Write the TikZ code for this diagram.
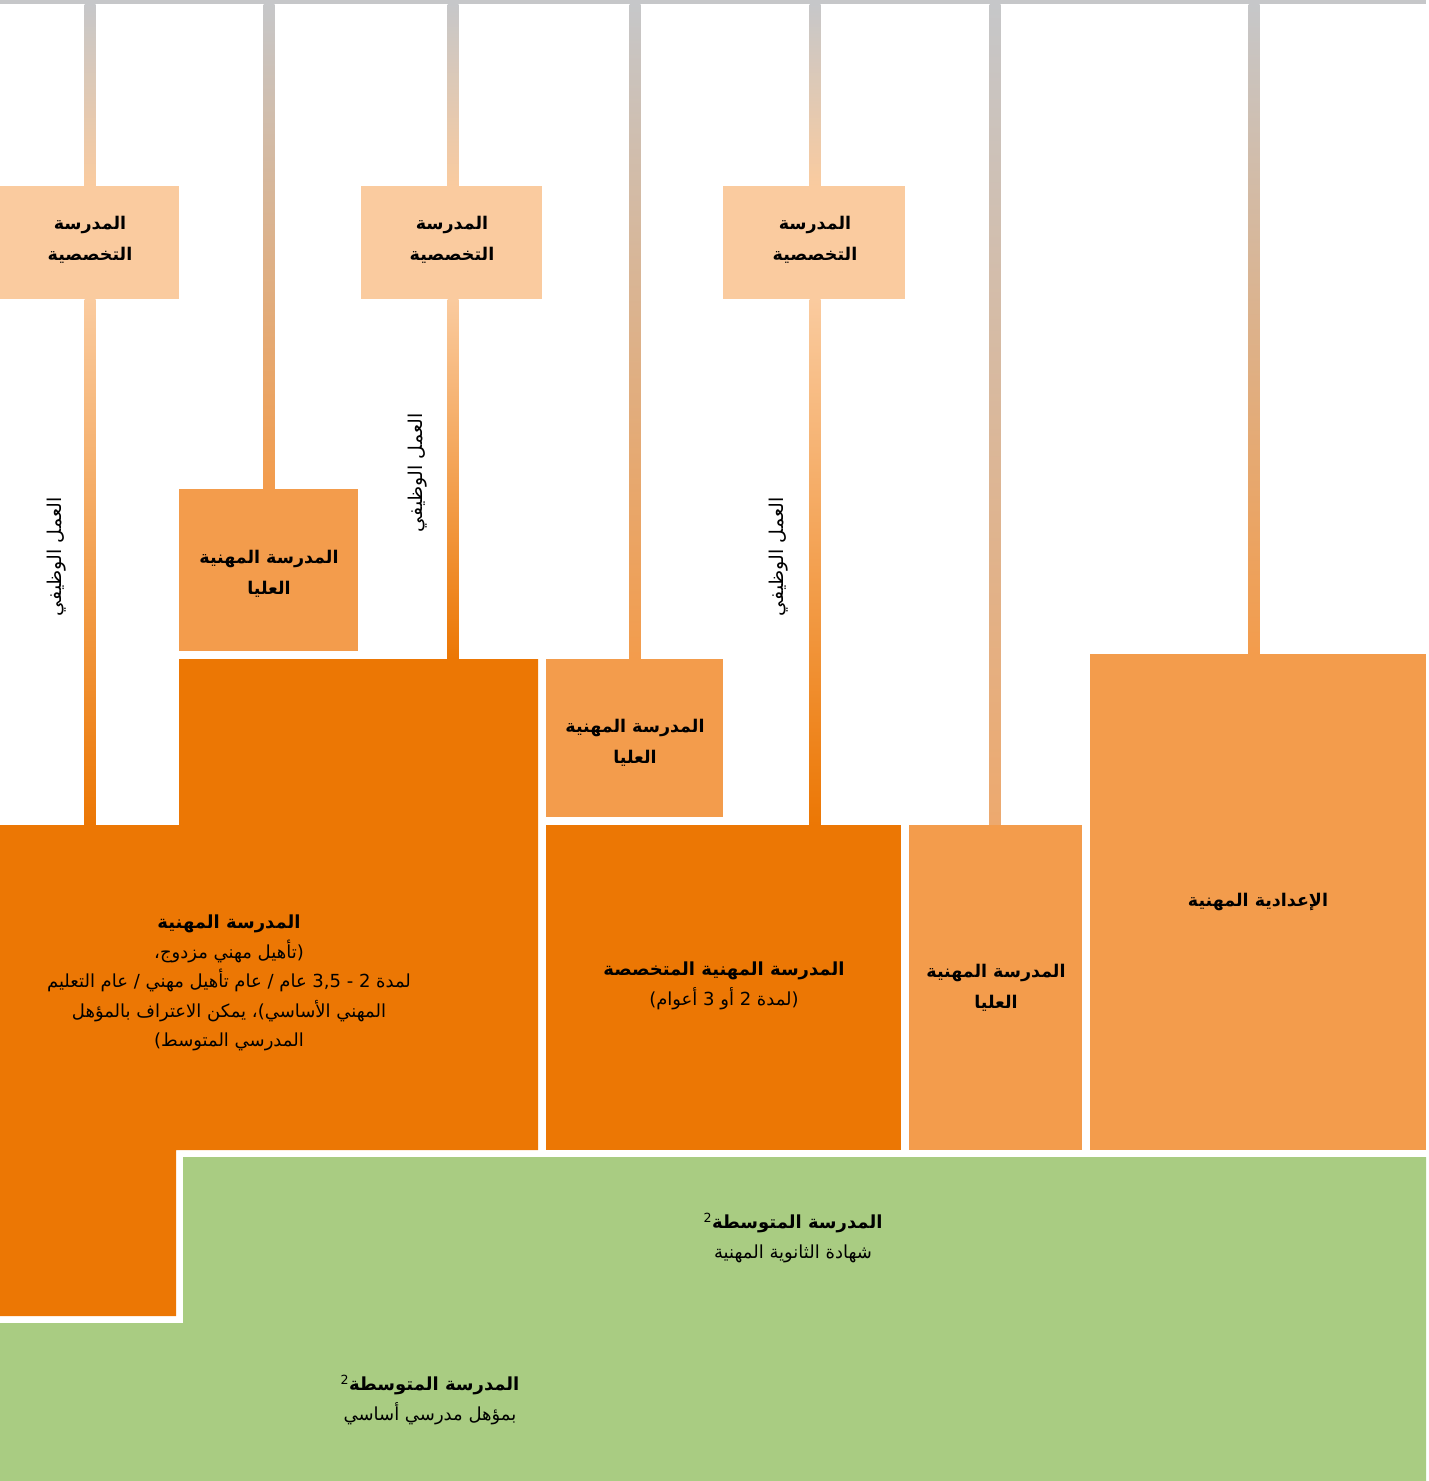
\documentclass[tikz,border=0pt]{standalone}
\usepackage{fontspec}
\TeXXeTstate=1
\newfontfamily\arabicfont[Script=Arabic]{DejaVu Sans}

\definecolor{topgray}{HTML}{C6C7C9}
\definecolor{peach}{HTML}{FACB9F}
\definecolor{midorange}{HTML}{F39C4C}
\definecolor{darkorange}{HTML}{EC7704}
\definecolor{paleorange}{HTML}{EDA96E}
\definecolor{lightgreen}{HTML}{A9CC82}

\newcommand{\ar}[1]{\beginR #1\endR}

\tikzset{
	boxtext/.style = {align = center, inner sep = 0pt, font = \arabicfont\bfseries\fontsize{17.5}{31}\selectfont},
	bodytext/.style = {align = center, inner sep = 0pt, font = \arabicfont\fontsize{18}{29.5}\selectfont},
	sidetext/.style = {rotate = 90, inner sep = 0pt, font = \arabicfont\fontsize{19}{20}\selectfont},
}

\begin{document}
\begin{tikzpicture}[x = 1pt, y = -1pt]

	% Definition
	
	\def\w{5.5}		% Half width of the vertical lines
	
	\useasboundingbox (0, 0) rectangle (1429, 1481);
	
	% Top bar
	
	\fill [topgray] (0, 0) rectangle (1426, 4);
	
	% Vertical lines (gray at the top, box colour at the bottom)
	
	\shade [top color = topgray, bottom color = peach] (90 - \w, 4) rectangle (90 + \w, 186);
	\shade [top color = peach, bottom color = darkorange] (90 - \w, 299) rectangle (90 + \w, 825);
	\shade [top color = topgray, bottom color = midorange] (269 - \w, 4) rectangle (269 + \w, 489);
	\shade [top color = topgray, bottom color = peach] (453 - \w, 4) rectangle (453 + \w, 186);
	\shade [top color = peach, bottom color = darkorange] (453 - \w, 299) rectangle (453 + \w, 659);
	\shade [top color = topgray, bottom color = midorange] (635 - \w, 4) rectangle (635 + \w, 659);
	\shade [top color = topgray, bottom color = peach] (815 - \w, 4) rectangle (815 + \w, 186);
	\shade [top color = peach, bottom color = darkorange] (815 - \w, 299) rectangle (815 + \w, 825);
	\shade [top color = topgray, bottom color = paleorange] (995 - \w, 4) rectangle (995 + \w, 825);
	\shade [top color = topgray, bottom color = midorange] (1254 - \w, 4) rectangle (1254 + \w, 654);
	
	% Specialist schools
	
	\fill [peach] (0, 186) rectangle (179, 299);
	\fill [peach] (361, 186) rectangle (542, 299);
	\fill [peach] (723, 186) rectangle (905, 299);
	
	\node (fach1) [boxtext] at (90, 240) {\ar{المدرسة}\\\ar{التخصصية}};
	\node (fach2) [boxtext] at (452, 240) {\ar{المدرسة}\\\ar{التخصصية}};
	\node (fach3) [boxtext] at (815, 240) {\ar{المدرسة}\\\ar{التخصصية}};
	
	% Higher vocational schools
	
	\fill [midorange] (179, 489) rectangle (358, 651);
	\fill [midorange] (546, 659) rectangle (723, 817);
	\fill [midorange] (909, 825) rectangle (1082, 1150);
	
	\node (hoch1) [boxtext] at (269, 574) {\ar{المدرسة المهنية}\\\ar{العليا}};
	\node (hoch2) [boxtext] at (635, 743) {\ar{المدرسة المهنية}\\\ar{العليا}};
	\node (hoch3) [boxtext] at (996, 988) {\ar{المدرسة المهنية}\\\ar{العليا}};
	
	% Vocational baccalaureate
	
	\fill [midorange] (1090, 654) rectangle (1426, 1150);
	\node (matur) [boxtext] at (1258, 902) {\ar{الإعدادية المهنية}};
	
	% Vocational school and specialised vocational school
	
	\fill [darkorange] (0, 825) -- (179, 825) -- (179, 659) -- (538, 659) -- (538, 1150)
		-- (176, 1150) -- (176, 1316) -- (0, 1316) -- cycle;
	\node (beruf) [bodytext] at (229, 983) {\textbf{\ar{المدرسة المهنية}}\\
		\ar{(تأهيل مهني مزدوج،}\\
		\ar{لمدة 2 - \beginL 3,5\endL{} عام / عام تأهيل مهني / عام التعليم}\\
		\ar{المهني الأساسي)، يمكن الاعتراف بالمؤهل}\\
		\ar{المدرسي المتوسط)}};
	
	\fill [darkorange] (546, 825) rectangle (901, 1150);
	\node (fachmittel) [bodytext] at (724, 986) {\textbf{\ar{المدرسة المهنية المتخصصة}}\\\ar{(لمدة 2 أو 3 أعوام)}};
	
	% Lower secondary schools
	
	\fill [lightgreen] (183, 1157) -- (1426, 1157) -- (1426, 1481) -- (0, 1481)
		-- (0, 1323) -- (183, 1323) -- cycle;
	\node (sek1) [bodytext] at (793, 1238) {\textbf{\ar{المدرسة المتوسطة\textsuperscript{\mdseries 2}}}\\\ar{شهادة الثانوية المهنية}};
	\node (sek2) [bodytext] at (430, 1400) {\textbf{\ar{المدرسة المتوسطة\textsuperscript{\mdseries 2}}}\\\ar{بمؤهل مدرسي أساسي}};
	
	% Working life
	
	\node (arbeit1) [sidetext] at (57, 557) {\ar{العمل الوظيفي}};
	\node (arbeit2) [sidetext] at (418, 473) {\ar{العمل الوظيفي}};
	\node (arbeit3) [sidetext] at (779, 557) {\ar{العمل الوظيفي}};

\end{tikzpicture}
\end{document}
